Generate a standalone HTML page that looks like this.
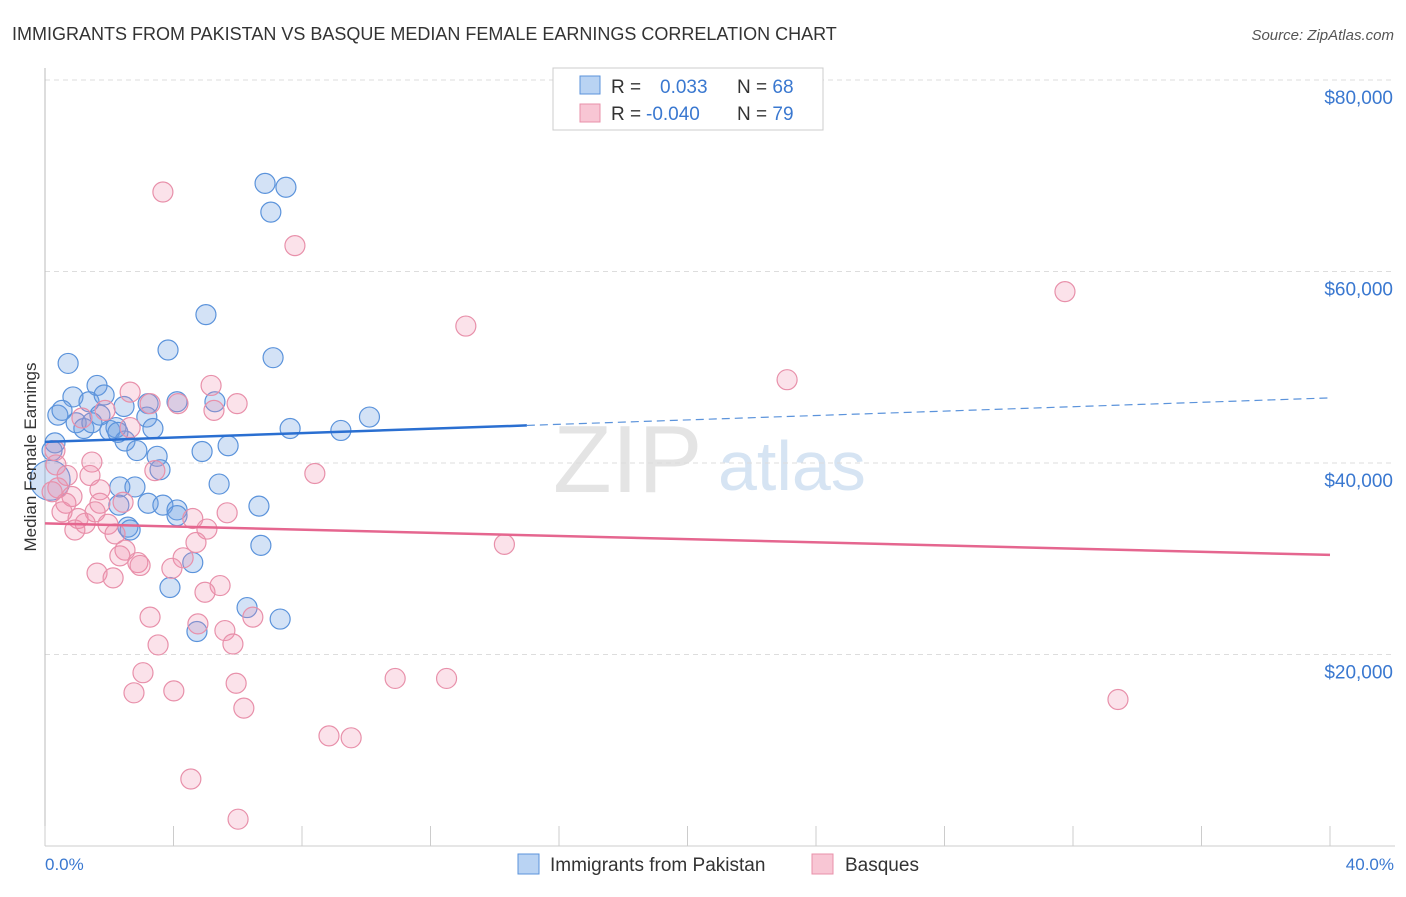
<!DOCTYPE html>
<html><head><meta charset="utf-8"><style>
body{margin:0;background:#fff;font-family:"Liberation Sans",sans-serif;}
svg text{font-family:"Liberation Sans",sans-serif;}
</style></head><body>
<svg id="chart" width="1406" height="892" xmlns="http://www.w3.org/2000/svg">
<text x="12" y="40" font-size="18" fill="#333">IMMIGRANTS FROM PAKISTAN VS BASQUE MEDIAN FEMALE EARNINGS CORRELATION CHART</text>
<text x="1394" y="40" font-size="15" fill="#555" font-style="italic" text-anchor="end">Source: ZipAtlas.com</text>
<g>
<text x="553" y="492" font-size="96" fill="#e4e4e4" font-family="Liberation Serif,serif">ZIP</text>
<text x="718" y="490" font-size="70" fill="#d6e4f3">atlas</text>
</g>
<g id="grid"></g>
<line x1="45" y1="68" x2="45" y2="846" stroke="#bbb"/>
<line x1="45" y1="846" x2="1395" y2="846" stroke="#ccc"/>
<g id="xticks"></g>
<g id="points"></g>
<g id="trends"></g>
<text x="36" y="457" font-size="17" fill="#333" transform="rotate(-90 36 457)" text-anchor="middle">Median Female Earnings</text>
<text x="45" y="870" font-size="17" fill="#3a78d0">0.0%</text>
<text x="1394" y="870" font-size="17" fill="#3a78d0" text-anchor="end">40.0%</text>
<g>
<rect x="553" y="68" width="270" height="62" fill="#fff" stroke="#ccc"/>
<rect x="580" y="76" width="20" height="18" fill="#b9d3f3" stroke="#5b93db"/>
<rect x="580" y="104" width="20" height="18" fill="#f8c6d4" stroke="#e890aa"/>
<text x="611" y="93" font-size="19" fill="#333">R = <tspan fill="#3a78d0" x="660">0.033</tspan><tspan x="737" fill="#333">N = </tspan><tspan fill="#3a78d0">68</tspan></text>
<text x="611" y="120" font-size="19" fill="#333">R = <tspan fill="#3a78d0" x="646">-0.040</tspan><tspan x="737" fill="#333">N = </tspan><tspan fill="#3a78d0">79</tspan></text>
</g>
<g>
<rect x="518" y="854" width="21" height="20" fill="#b9d3f3" stroke="#5b93db"/>
<text x="550" y="871" font-size="19" fill="#333">Immigrants from Pakistan</text>
<rect x="812" y="854" width="21" height="20" fill="#f8c6d4" stroke="#e890aa"/>
<text x="845" y="871" font-size="19" fill="#333">Basques</text>
</g>
</svg>
<script>
const yTicks=[20000,40000,60000,80000];
const yTickLabels=["$20,000","$40,000","$60,000","$80,000"];
const xTicks=[0,4,8,12,16,20,24,28,32,36,40];
const pakX=[6.85,7.5,7.03,5.01,3.83,0.72,7.1,1.62,0.87,1.37,1.84,2.46,3.21,4.11,5.29,3.17,1.71,0.4,0.53,0.97,1.21,1.46,2.02,2.21,3.36,10.1,9.21,7.63,5.7,4.89,2.49,2.86,3.49,3.58,0.31,0.22,0.16,2.33,2.8,5.42,3.21,3.67,4.11,2.3,6.66,2.58,2.65,4.11,6.72,4.6,3.89,6.29,7.32,4.73,2.27];
const pakY=[69.2,68.8,66.2,55.5,51.8,50.4,51.0,48.1,46.9,46.4,47.1,45.9,46.2,46.4,46.4,44.8,45.0,45.0,45.5,44.2,43.6,44.2,43.4,43.7,43.6,44.8,43.4,43.6,41.8,41.2,42.3,41.3,40.7,39.3,42.1,41.3,38.2,37.5,37.5,37.8,35.8,35.6,35.1,35.6,35.5,33.3,33.0,34.5,31.4,29.6,27.0,24.9,23.7,22.4,43.2];
const basX=[3.67,7.78,31.75,13.1,23.1,2.65,5.17,3.27,4.14,5.98,5.26,1.87,1.15,2.65,0.31,0.34,0.69,1.46,1.4,3.42,8.4,0.4,0.84,1.71,0.65,1.71,2.43,0.53,1.03,1.56,5.67,4.6,0.93,1.25,1.96,2.18,5.04,4.7,14.3,2.49,2.33,4.3,2.89,2.96,1.62,2.12,3.95,5.45,4.98,3.27,6.47,4.76,5.6,3.52,5.85,3.05,5.95,10.9,12.5,2.77,4.01,6.19,33.4,8.84,9.53,4.54,6.01,0.22];
const basY=[68.3,62.7,57.9,54.3,48.7,47.4,48.1,46.2,46.2,46.2,45.5,45.5,44.7,43.7,41.3,39.8,38.7,40.1,38.7,39.2,38.9,37.4,36.5,37.2,35.8,35.8,35.9,34.9,34.2,34.9,34.8,34.2,33.0,33.7,33.6,32.6,33.1,31.7,31.5,30.9,30.3,30.1,29.6,29.3,28.5,28.0,29.0,27.2,26.5,23.9,23.9,23.2,22.5,21.0,21.1,18.1,17.0,17.5,17.5,16.0,16.2,14.4,15.3,11.5,11.3,7.0,2.8,37.0];
const pakTrend=[42200,46800];
const basTrend=[33700,30400];
const NS="http://www.w3.org/2000/svg";
function xs(p){return 45+p*(1285/40);}
function ys(v){return 846-v*(383/40000);}
function mk(tag,attrs,parent){const e=document.createElementNS(NS,tag);for(const k in attrs)e.setAttribute(k,attrs[k]);parent.appendChild(e);return e;}
const grid=document.getElementById('grid');
yTicks.forEach((v,i)=>{
  const l=mk('line',{x1:45,x2:1395,y1:ys(v),y2:ys(v),stroke:'#ddd','stroke-dasharray':'5,4'},grid);
  
  
  const t=mk('text',{x:1393,y:ys(v)+24,'font-size':19,fill:'#3a78d0','text-anchor':'end'},grid);
  t.textContent=yTickLabels[i];
  
  
});
const xt=document.getElementById('xticks');
xTicks.forEach(p=>{
  const l=mk('line',{x1:xs(p),x2:xs(p),y1:826,y2:846,stroke:'#ccc'},xt);
  
  
});
const pts=document.getElementById('points');
pakX.forEach((x,i)=>{
  const c=mk('circle',{cx:xs(x),cy:ys(pakY[i]*1000),r:i==36?20:10,fill:'rgba(110,160,225,0.3)',stroke:'#5b93db','stroke-width':1.2},pts);
  
  
});
basX.forEach((x,i)=>{
  const c=mk('circle',{cx:xs(x),cy:ys(basY[i]*1000),r:10,fill:'rgba(240,140,170,0.25)',stroke:'#e890aa','stroke-width':1.2},pts);
  
  
});
const tr=document.getElementById('trends');
const pm=pakTrend[0]+(pakTrend[1]-pakTrend[0])*(15/40);
let l1=mk('line',{x1:xs(0),y1:ys(pakTrend[0]),x2:xs(15),y2:ys(pm),stroke:'#2a6fd1','stroke-width':2.5},tr);


let l2=mk('line',{x1:xs(15),y1:ys(pm),x2:xs(40),y2:ys(pakTrend[1]),stroke:'#5b93db','stroke-width':1.2,'stroke-dasharray':'8,5'},tr);


let l3=mk('line',{x1:xs(0),y1:ys(basTrend[0]),x2:xs(40),y2:ys(basTrend[1]),stroke:'#e5668f','stroke-width':2.5},tr);


</script>
</body></html>
